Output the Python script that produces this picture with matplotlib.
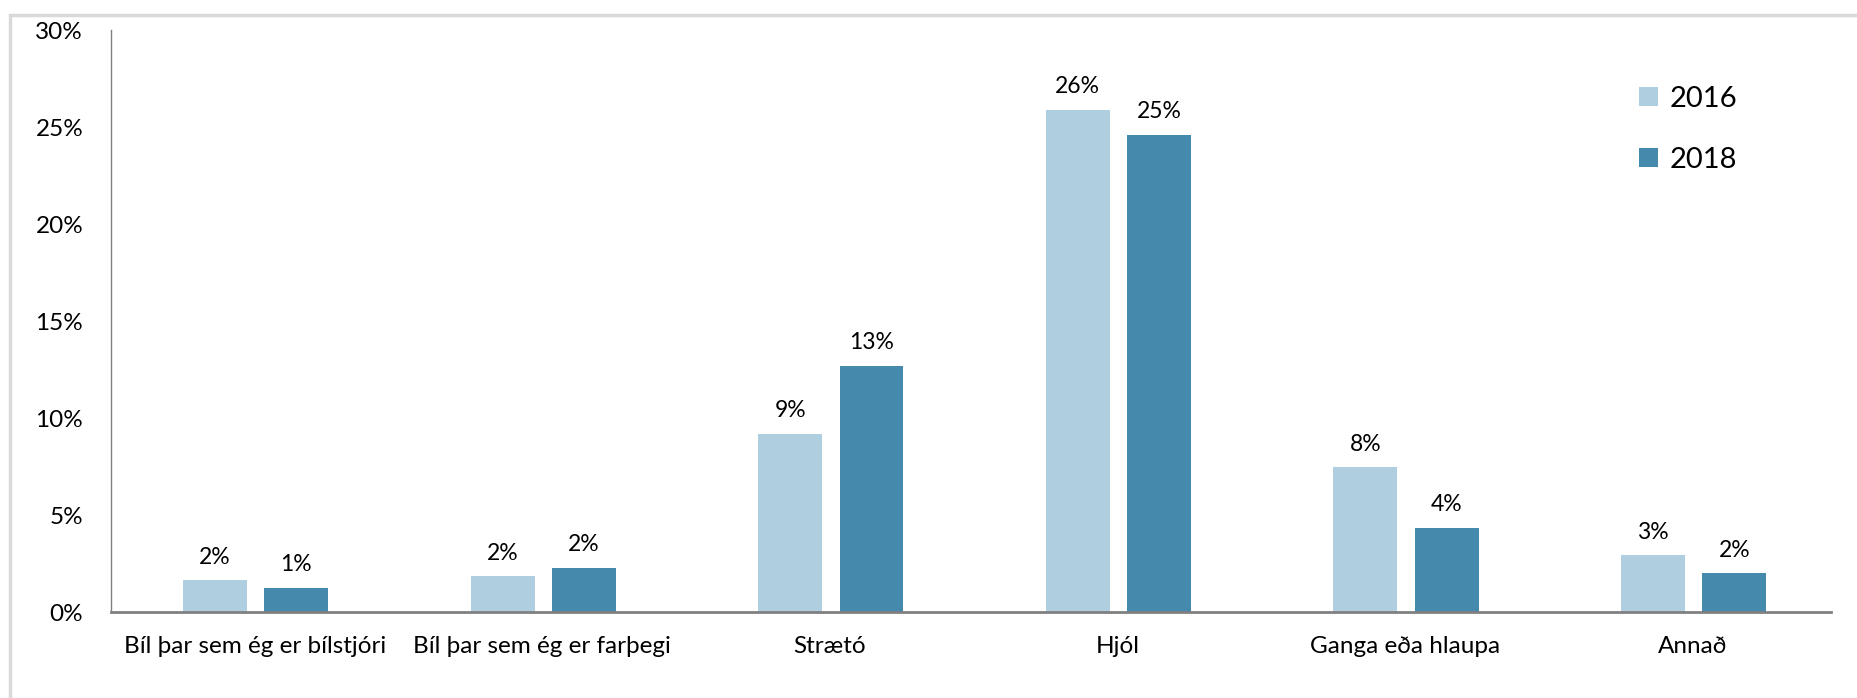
import matplotlib.pyplot as plt
import matplotlib.patches as mpatches
from matplotlib.ticker import FuncFormatter
import numpy as np

plt.rcParams['font.family'] = ['Lato', 'DejaVu Sans']

categories = ["Bíl þar sem ég er bílstjóri", "Bíl þar sem ég er farþegi", "Strætó",
              "Hjól", "Ganga eða hlaupa", "Annað"]
years = ["2016", "2018"]
v2016 = [1.65, 1.84, 9.2, 25.9, 7.47, 2.92]
v2018 = [1.27, 2.3, 12.7, 24.6, 4.35, 2.0]
labels2016 = ["2%", "2%", "9%", "26%", "8%", "3%"]
labels2018 = ["1%", "2%", "13%", "25%", "4%", "2%"]

c_light = "#AFCFE0"
c_dark = "#4589AD"

fig = plt.figure(figsize=(18.58, 6.98), dpi=100)
ax = fig.add_axes([0.0597, 0.123, 0.926, 0.834])

# light grey frame round the chart area
fig.patches.append(mpatches.Rectangle((0.0055, -0.2), 1.2, 1.178, transform=fig.transFigure,
                                      fill=False, edgecolor="#D9D9D9", linewidth=2.5))

x = np.arange(len(categories))
w = 0.222
b1 = ax.bar(x - 0.138, v2016, w, color=c_light, label=years[0])
b2 = ax.bar(x + 0.145, v2018, w, color=c_dark, label=years[1])

for bars, labs in ((b1, labels2016), (b2, labels2018)):
    for b, t in zip(bars, labs):
        ax.annotate(t, (b.get_x() + b.get_width() / 2, b.get_height()),
                    xytext=(0, 9), textcoords="offset points",
                    ha="center", va="bottom", fontsize=16.5)

ax.set_xlim(-0.5, 5.483)
ax.set_ylim(0, 30)
ax.set_yticks([0, 5, 10, 15, 20, 25, 30])
ax.yaxis.set_major_formatter(FuncFormatter(lambda v, p: "%d%%" % v))
ax.set_xticks(x)
ax.set_xticklabels(categories)
ax.tick_params(axis="both", length=0, labelsize=17.5, colors="black")
ax.tick_params(axis="y", pad=20)
ax.tick_params(axis="x", pad=17)

for s in ["top", "right"]:
    ax.spines[s].set_visible(False)
ax.spines["left"].set_color("#808080")
ax.spines["left"].set_linewidth(1)
ax.spines["bottom"].set_color("#808080")
ax.spines["bottom"].set_linewidth(2)

fig.legend(loc="upper left", bbox_to_anchor=(0.868, 0.915), frameon=False,
           fontsize=21, handlelength=0.65, handleheight=0.65, handletextpad=0.4,
           labelspacing=1.2)

plt.savefig("out.png")
